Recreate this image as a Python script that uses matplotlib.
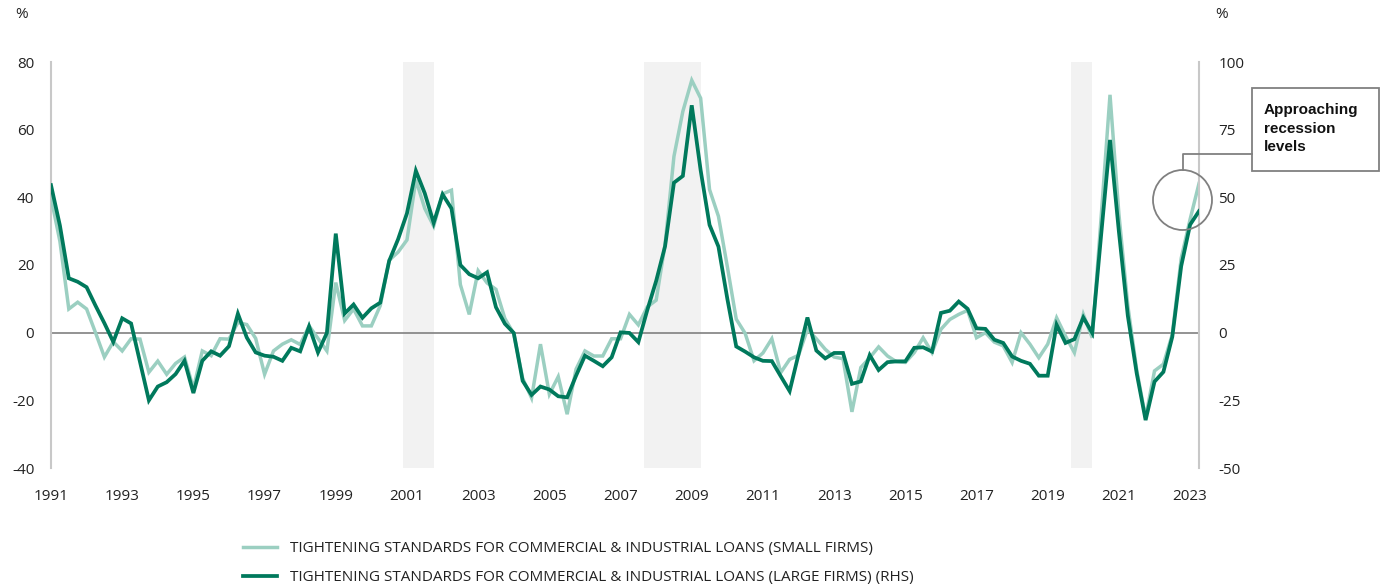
import numpy as np
import pandas as pd
import matplotlib
matplotlib.use("Agg")
import matplotlib.pyplot as plt
from matplotlib.patches import Ellipse, Rectangle
from matplotlib.lines import Line2D

# survey quarters shown on the chart (category axis, 1990Q4 .. 2023Q1)
quarters = pd.period_range("1990Q4", "2023Q1", freq="Q")

# net % of banks tightening C&I standards, small firms (left axis)
small_firms = [
    40.0, 27.0, 7.0, 9.0, 7.0, 0.0, -7.2, -2.7, -5.4, -1.8,
    -1.9, -11.7, -8.4, -12.3, -9.1, -7.2, -16.5, -5.4, -6.8, -1.8,
    -1.9, 3.0, 2.4, -1.7, -12.3, -5.4, -3.4, -2.1, -3.5, 2.0,
    -1.7, -5.4, 14.8, 3.6, 7.0, 2.0, 2.0, 8.0, 21.4, 23.8,
    27.4, 45.2, 36.7, 31.5, 41.0, 42.1, 14.2, 5.4, 18.3, 14.7,
    12.8, 4.2, -0.3, -13.5, -19.3, -3.4, -18.2, -13.0, -24.1, -10.8,
    -5.4, -6.9, -6.9, -1.8, -1.8, 5.4, 2.3, 7.6, 9.6, 26.0,
    52.1, 65.4, 74.6, 69.3, 42.3, 34.4, 19.5, 4.0, -0.2, -8.3,
    -6.0, -1.8, -11.8, -7.9, -6.7, 1.0, -1.8, -4.9, -7.2, -7.7,
    -23.4, -10.3, -7.4, -4.2, -6.9, -8.6, -8.8, -5.9, -1.5, -5.9,
    1.0, 3.9, 5.4, 6.6, -1.5, 0.0, -2.8, -3.9, -8.8, 0.0,
    -3.4, -7.4, -3.4, 4.4, -1.0, -5.9, 5.4, -1.5, 34.0, 70.3,
    35.0, 8.0, -11.0, -25.1, -11.3, -9.3, -0.5, 22.0, 33.5, 44.1,
]

# large firms (right axis)
large_firms = [
    54.5, 39.6, 20.1, 18.8, 16.8, 10.0, 3.5, -3.4, 5.3, 3.4,
    -10.8, -25.0, -19.9, -18.3, -15.3, -10.4, -22.3, -10.4, -6.9, -8.5,
    -5.0, 7.0, -1.8, -7.3, -8.5, -8.9, -10.4, -5.6, -6.9, 2.3,
    -7.3, -0.1, 36.6, 7.1, 10.4, 5.5, 9.0, 11.1, 26.5, 34.5,
    44.1, 59.8, 51.5, 40.6, 51.1, 45.9, 25.0, 21.6, 20.1, 22.3,
    9.4, 3.3, -0.1, -17.8, -23.0, -19.9, -21.0, -23.5, -23.9, -15.9,
    -8.5, -10.4, -12.4, -9.1, 0.1, -0.1, -3.5, 8.3, 19.1, 31.9,
    55.4, 57.9, 84.0, 60.0, 39.8, 31.8, 12.5, -5.1, -7.0, -9.1,
    -10.4, -10.5, -16.1, -21.6, -8.0, 5.6, -6.6, -9.5, -7.5, -7.5,
    -18.9, -18.0, -8.3, -13.8, -10.9, -10.6, -10.6, -5.6, -5.4, -7.0,
    7.3, 8.1, 11.5, 8.8, 1.6, 1.4, -2.6, -3.8, -8.8, -10.4,
    -11.5, -15.9, -15.9, 2.9, -3.8, -2.4, 5.6, -0.1, 36.0, 71.2,
    37.3, 6.3, -15.0, -32.3, -18.1, -14.5, -1.5, 24.6, 39.9, 44.9,
]

year_labels = [str(y) for y in range(1991, 2024, 2)]
left_ticks = [-40, -20, 0, 20, 40, 60, 80]
right_ticks = [-50, -25, 0, 25, 50, 75, 100]

# recessions (quarterly peak, trough)
recessions = [("2001Q1", "2001Q4"), ("2007Q4", "2009Q2"), ("2019Q4", "2020Q2")]

LIGHT = "#9bcfc1"
DARK = "#00795c"
TXT = "#222222"
W, H = 1386, 587

plt.rcParams["font.family"] = ["Open Sans", "DejaVu Sans"]


def fx(px):
    return px / W


def fy(py):
    return 1 - py / H


fig = plt.figure(figsize=(W / 100, H / 100), dpi=100)
ax = fig.add_axes([fx(51), fy(468), fx(1199) - fx(51), fy(62) - fy(468)])
ax2 = ax.twinx()

x = np.arange(len(quarters))

for start, end in recessions:
    i0 = quarters.get_loc(pd.Period(start, freq="Q"))
    i1 = quarters.get_loc(pd.Period(end, freq="Q"))
    ax.axvspan(i0 - 1.4, i1 - 1.0, color="#f2f2f2", lw=0, zorder=0)

ax.axhline(0, color="#808080", lw=1.2, zorder=1)

l1, = ax.plot(x, small_firms, color=LIGHT, lw=2.5, zorder=3,
              solid_joinstyle="miter")
l2, = ax2.plot(x, large_firms, color=DARK, lw=2.7, zorder=3,
               solid_joinstyle="miter")

ax.set_xlim(0, len(quarters) - 1)
ax.set_ylim(-40, 80)
ax2.set_ylim(-50, 100)
ax.set_yticks(left_ticks)
ax.set_yticklabels([str(v) for v in left_ticks])
ax2.set_yticks(right_ticks)
ax2.set_yticklabels([str(v) for v in right_ticks])
ax.set_xticks(np.arange(0, len(quarters), 8))
ax.set_xticklabels(year_labels)

ax.tick_params(axis="x", length=0, pad=15, labelsize=11, labelcolor=TXT)
ax.tick_params(axis="y", length=0, pad=12, labelsize=11, labelcolor=TXT)
ax2.tick_params(axis="y", length=0, pad=14, labelsize=11, labelcolor=TXT)

for a in (ax, ax2):
    for s in ("top", "bottom"):
        a.spines[s].set_visible(False)
ax.spines["right"].set_visible(False)
ax2.spines["left"].set_visible(False)
ax.spines["left"].set_color("#c8c8c8")
ax.spines["left"].set_linewidth(1.5)
ax2.spines["right"].set_color("#c8c8c8")
ax2.spines["right"].set_linewidth(1.5)

fig.text(fx(22), fy(15), "%", fontsize=11, color=TXT, ha="center", va="center")
fig.text(fx(1222), fy(15), "%", fontsize=11, color=TXT, ha="center", va="center")

# annotation: circle, connector and box
fig.patches.append(Ellipse((fx(1182.5), fy(200)), 59 / W, 60 / H,
                           transform=fig.transFigure, fill=False,
                           ec="#808080", lw=1.3))
fig.lines.append(Line2D([fx(1182.5), fx(1182.5), fx(1252)],
                        [fy(170), fy(154), fy(154)],
                        transform=fig.transFigure, color="#808080", lw=1.3))
fig.patches.append(Rectangle((fx(1252), fy(171)), 127 / W, 83 / H,
                             transform=fig.transFigure, fill=False,
                             ec="#808080", lw=1.3))
fig.text(fx(1264), fy(103), "Approaching\nrecession\nlevels",
         family=["Liberation Sans", "DejaVu Sans"], weight="bold",
         fontsize=11, color="#111111", ha="left", va="top", linespacing=1.42)

fig.legend([l1, l2],
           ["TIGHTENING STANDARDS FOR COMMERCIAL & INDUSTRIAL LOANS (SMALL FIRMS)",
            "TIGHTENING STANDARDS FOR COMMERCIAL & INDUSTRIAL LOANS (LARGE FIRMS) (RHS)"],
           loc="upper left", bbox_to_anchor=(fx(243), fy(541)),
           frameon=False, fontsize=11, handlelength=2.2, handletextpad=0.9,
           labelspacing=0.92, borderpad=0, borderaxespad=0, labelcolor=TXT)

fig.savefig("out.png", dpi=100)
